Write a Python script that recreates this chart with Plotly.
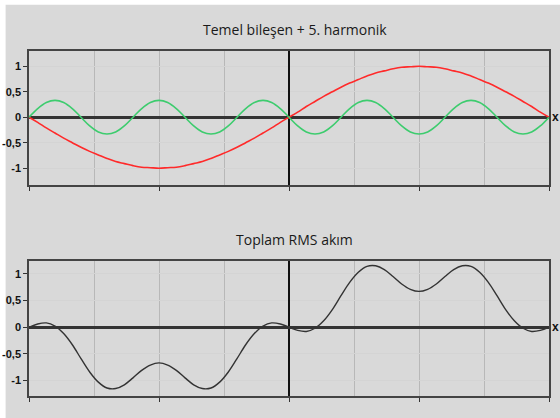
import plotly.graph_objects as go

# angle in degrees, step 6
angle = list(range(-180, 181, 6))

fundamental = [0, -0.10, -0.21, -0.31, -0.41, -0.50, -0.59, -0.67, -0.74, -0.81, -0.87, -0.91, -0.95, -0.98, -0.99, -1.00,
               -0.99, -0.98, -0.95, -0.91, -0.87, -0.81, -0.74, -0.67, -0.59, -0.50, -0.41, -0.31, -0.21, -0.10,
               0, 0.10, 0.21, 0.31, 0.41, 0.50, 0.59, 0.67, 0.74, 0.81, 0.87, 0.91, 0.95, 0.98, 0.99, 1.00,
               0.99, 0.98, 0.95, 0.91, 0.87, 0.81, 0.74, 0.67, 0.59, 0.50, 0.41, 0.31, 0.21, 0.10, 0]

harmonic5 = [0, 0.17, 0.29, 0.33, 0.29, 0.17, 0, -0.17, -0.29, -0.33, -0.29, -0.17,
             0, 0.17, 0.29, 0.33, 0.29, 0.17, 0, -0.17, -0.29, -0.33, -0.29, -0.17,
             0, 0.17, 0.29, 0.33, 0.29, 0.17,
             0, -0.17, -0.29, -0.33, -0.29, -0.17, 0, 0.17, 0.29, 0.33, 0.29, 0.17,
             0, -0.17, -0.29, -0.33, -0.29, -0.17, 0, 0.17, 0.29, 0.33, 0.29, 0.17,
             0, -0.17, -0.29, -0.33, -0.29, -0.17, 0]

total = [0, 0.06, 0.08, 0.02, -0.12, -0.33, -0.59, -0.84, -1.03, -1.14, -1.15, -1.08, -0.95, -0.81, -0.71, -0.67,
         -0.71, -0.81, -0.95, -1.08, -1.15, -1.14, -1.03, -0.84, -0.59, -0.33, -0.12, 0.02, 0.08, 0.06,
         0, -0.06, -0.08, -0.02, 0.12, 0.33, 0.59, 0.84, 1.03, 1.14, 1.15, 1.08, 0.95, 0.81, 0.71, 0.67,
         0.71, 0.81, 0.95, 1.08, 1.15, 1.14, 1.03, 0.84, 0.59, 0.33, 0.12, -0.02, -0.08, -0.06, 0]

ytick_vals = [-1, -0.5, 0, 0.5, 1]
ytick_text = ["-1", "-0,5", "0", "0,5", "1"]

title_top = "Temel bileşen + 5. harmonik"
title_bottom = "Toplam RMS akım"

fig = go.Figure()
fig.add_trace(go.Scatter(x=angle, y=fundamental, mode="lines", line=dict(color="#ff2a2a", width=1.6, shape="spline"),
                         xaxis="x", yaxis="y", showlegend=False))
fig.add_trace(go.Scatter(x=angle, y=harmonic5, mode="lines", line=dict(color="#3dcc6e", width=1.6, shape="spline"),
                         xaxis="x", yaxis="y", showlegend=False))
fig.add_trace(go.Scatter(x=angle, y=total, mode="lines", line=dict(color="#333333", width=1.4, shape="spline"),
                         xaxis="x2", yaxis="y2", showlegend=False))

def xax(anchor):
    return dict(range=[-180, 180], anchor=anchor, dtick=90, tick0=0, showticklabels=False,
                ticks="outside", ticklen=4, tickcolor="#333", tickwidth=1, automargin=False,
                showgrid=True, gridcolor="#b8b8b8", gridwidth=1,
                minor=dict(dtick=45, tick0=0, showgrid=True, gridcolor="#b8b8b8", gridwidth=1, ticks=""),
                zeroline=True, zerolinecolor="#111", zerolinewidth=2,
                showline=True, linecolor="#444", linewidth=1.5, mirror=True, fixedrange=True)

def yax(anchor, rng, dom):
    return dict(range=rng, domain=dom, anchor=anchor, tickvals=ytick_vals, ticktext=ytick_text,
                ticks="outside", ticklen=4, tickcolor="#333", automargin=False,
                tickfont=dict(family="Liberation Sans, Arial", size=11, color="#111", weight="bold"),
                showgrid=True, gridcolor="#d4d4d4", gridwidth=1,
                zeroline=True, zerolinecolor="#333", zerolinewidth=2.5,
                showline=True, linecolor="#444", linewidth=1.5, mirror=True, fixedrange=True)

fig.update_layout(
    width=560, height=418,
    margin=dict(l=29, r=11, t=51, b=22, autoexpand=False),
    paper_bgcolor="white", plot_bgcolor="white",
    xaxis=xax("y"), yaxis=yax("x", [-1.33, 1.30], [0.6116, 1.0]),
    xaxis2=xax("y2"), yaxis2=yax("x2", [-1.29, 1.24], [0.0, 0.3913]),
    shapes=[dict(type="rect", xref="paper", yref="paper", x0=-0.045, x1=1.03, y0=-0.07, y1=1.134,
                 fillcolor="#d9d9d9", line=dict(width=0), layer="below")],
    annotations=[
        dict(text=title_top, xref="paper", yref="paper", x=0.5115, y=1.0609, xanchor="center", yanchor="middle",
             showarrow=False, font=dict(family="Open Sans", size=14, color="#1a1a1a")),
        dict(text=title_bottom, xref="paper", yref="paper", x=0.5115, y=0.4522, xanchor="center", yanchor="middle",
             showarrow=False, font=dict(family="Open Sans", size=14, color="#1a1a1a")),
        dict(text="x", xref="paper", yref="y", x=1.0, y=0, xanchor="left", yanchor="middle", xshift=1,
             showarrow=False, font=dict(family="Liberation Sans, Arial", size=12, color="#111", weight="bold")),
        dict(text="x", xref="paper", yref="y2", x=1.0, y=0, xanchor="left", yanchor="middle", xshift=1,
             showarrow=False, font=dict(family="Liberation Sans, Arial", size=12, color="#111", weight="bold")),
    ],
)

fig.write_html("out.html", config={"displayModeBar": False},
               post_script="document.body.style.margin='0';document.body.style.overflow='hidden';")
